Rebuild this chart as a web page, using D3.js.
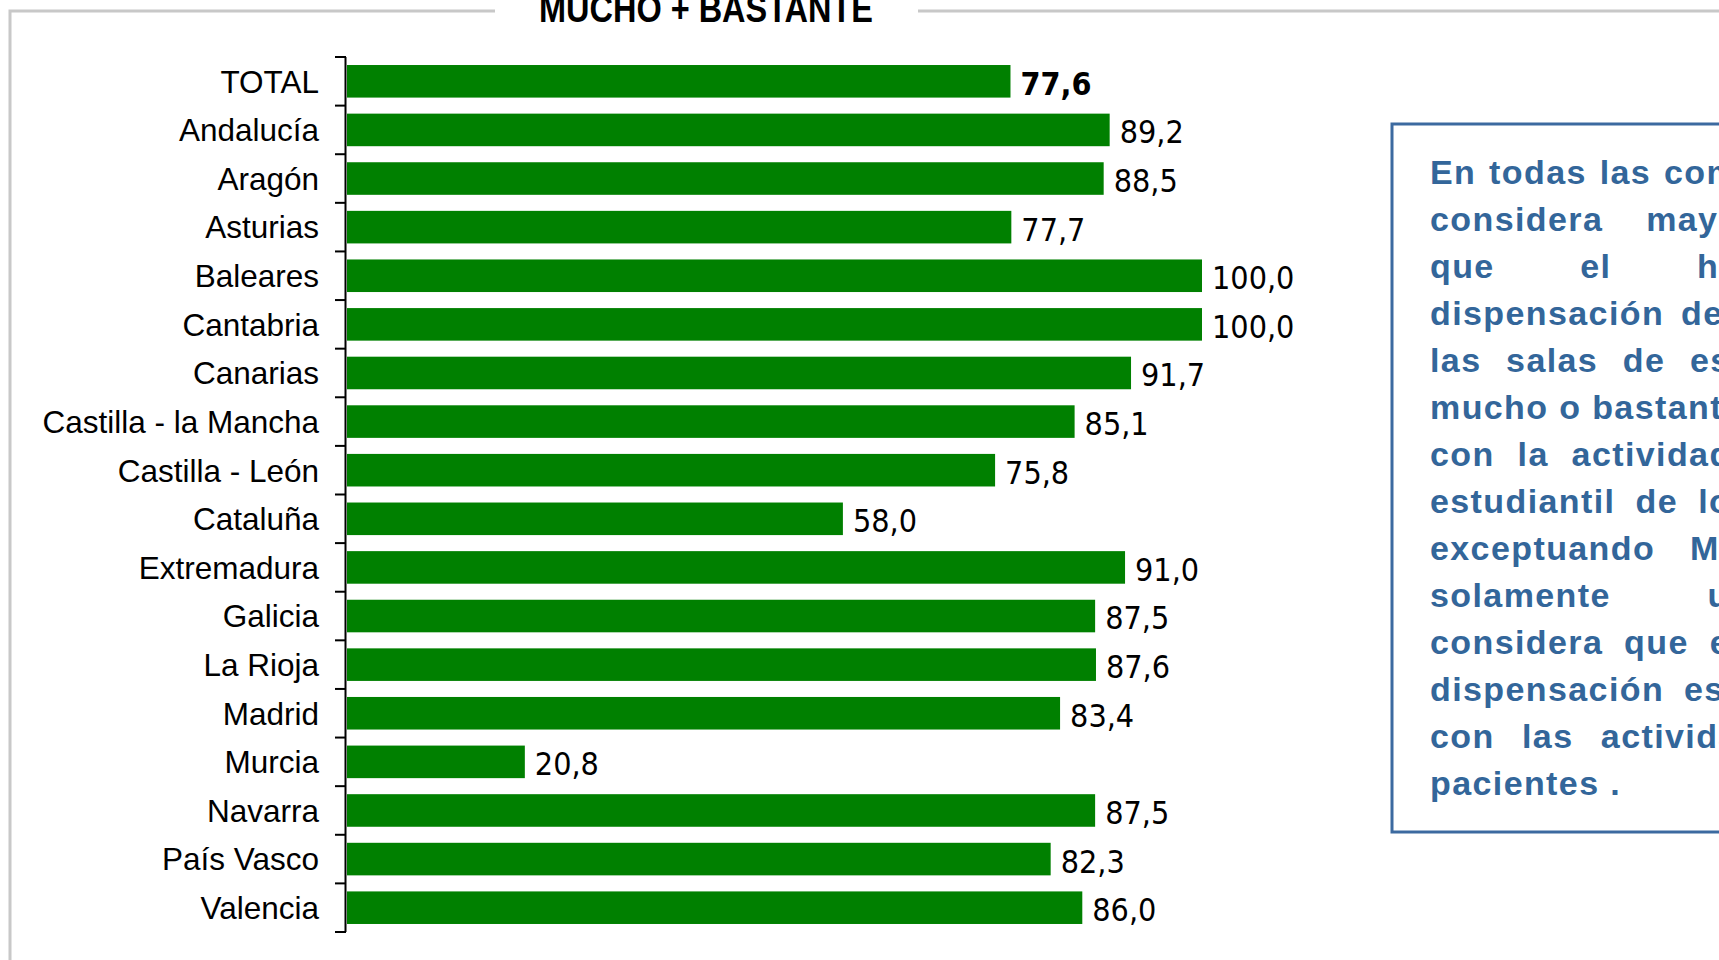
<!DOCTYPE html>
<html>
<head>
<meta charset="utf-8">
<script src="https://cdn.jsdelivr.net/npm/d3@7"></script>
<style>
  body { margin: 0; background: #fff; }
  svg { display: block; }
  .cat { font-family: "Liberation Sans", Arial, sans-serif; font-size: 31.5px; fill: #000; }
  .val { font-family: "DejaVu Sans Condensed", "DejaVu Sans", sans-serif; font-stretch: condensed; font-size: 32px; fill: #000; }
  .note { font-family: "Liberation Sans", Arial, sans-serif; font-weight: bold; font-size: 34px; letter-spacing: 1.4px; fill: #33669a; }
</style>
</head>
<body>
<svg width="1719" height="960"></svg>
<script>
const regions = ['TOTAL', 'Andalucía', 'Aragón', 'Asturias', 'Baleares', 'Cantabria', 'Canarias',
  'Castilla - la Mancha', 'Castilla - León', 'Cataluña', 'Extremadura', 'Galicia', 'La Rioja',
  'Madrid', 'Murcia', 'Navarra', 'País Vasco', 'Valencia']
const values = [77.6, 89.2, 88.5, 77.7, 100.0, 100.0, 91.7, 85.1, 75.8, 58.0, 91.0, 87.5, 87.6,
  83.4, 20.8, 87.5, 82.3, 86.0]

const title = 'MUCHO + BASTANTE'

// note text, one entry per printed line (right part runs off the page)
const noteLines = [
  'En todas las comunidades se',
  'considera mayoritariamente',
  'que el horario de',
  'dispensación del tratamiento',
  'las salas de espera influye',
  'mucho o bastante en la rutina',
  'con la actividad laboral y/o',
  'estudiantil de los pacientes,',
  'exceptuando Murcia donde',
  'solamente un 20,8%',
  'considera que el horario de',
  'dispensación está reñido en',
  'con las actividades de los',
  'pacientes .'
]

const fmt = v => v.toFixed(1).replace('.', ',')

const svg = d3.select('svg')

// grey frame round the chart, broken for the title
const frame = svg.append('g').attr('stroke', '#c8c8c8').attr('stroke-width', 3).attr('fill', 'none')
frame.append('path').attr('d', 'M10,970 V11 H495')
frame.append('path').attr('d', 'M918,11 H1719')

svg.append('text')
  .attr('x', 539).attr('y', 22)
  .attr('textLength', 334).attr('lengthAdjust', 'spacingAndGlyphs')
  .style('font-family', '"Liberation Sans Narrow", "Liberation Sans", Arial, sans-serif')
  .style('font-weight', 'bold').style('font-size', '38px')
  .text(title)

const y = d3.scaleBand().domain(regions).range([57, 932]).paddingInner(0.33).paddingOuter(0.165)
const x = d3.scaleLinear().domain([0, 100]).range([347, 1202])

const g = svg.append('g')

g.selectAll('rect.bar')
  .data(values)
  .enter().append('rect')
  .attr('class', 'bar')
  .attr('x', x(0))
  .attr('y', (d, i) => y(regions[i]))
  .attr('width', d => x(d) - x(0))
  .attr('height', y.bandwidth())
  .attr('fill', '#008000')

g.selectAll('text.val')
  .data(values)
  .enter().append('text')
  .attr('class', 'val')
  .attr('x', d => x(d) + 10)
  .attr('y', (d, i) => y(regions[i]) + y.bandwidth() / 2)
  .attr('dy', '0.42em')
  .style('font-weight', (d, i) => i === 0 ? 'bold' : 'normal')
  .text(fmt)

// axis: band boundary ticks, labels drawn by hand
const axis = svg.append('g').attr('stroke', '#000')
axis.append('line').attr('x1', 345.5).attr('x2', 345.5).attr('y1', 57).attr('y2', 932).attr('stroke-width', 2)
const bounds = d3.range(regions.length + 1).map(i => 57 + i * y.step())
axis.selectAll('line.tick')
  .data(bounds)
  .enter().append('line')
  .attr('class', 'tick')
  .attr('x1', 335).attr('x2', 346)
  .attr('y1', d => d).attr('y2', d => d)
  .attr('stroke-width', 2)

svg.append('g').selectAll('text')
  .data(regions)
  .enter().append('text')
  .attr('class', 'cat')
  .attr('x', 319)
  .attr('y', d => y(d) + y.bandwidth() / 2)
  .attr('dy', '0.36em')
  .attr('text-anchor', 'end')
  .text(d => d)

// blue note box
svg.append('rect')
  .attr('x', 1392).attr('y', 124).attr('width', 620).attr('height', 708)
  .attr('fill', 'none').attr('stroke', '#3c6aa0').attr('stroke-width', 3)

const noteW = 522, noteX = 1430
const note = svg.append('g')
noteLines.forEach((line, li) => {
  const words = line.split(' ')
  const ty = 184 + li * 47
  const els = words.map(w => note.append('text').attr('class', 'note').attr('y', ty).text(w))
  const widths = els.map(e => e.node().getComputedTextLength())
  const sum = d3.sum(widths)
  const last = li === noteLines.length - 1
  const gap = (last || words.length < 2) ? 10.8 : (noteW - sum) / (words.length - 1)
  let cx = noteX
  els.forEach((e, i) => {
    e.attr('x', cx)
    cx += widths[i] + gap
  })
})
</script>
</body>
</html>
